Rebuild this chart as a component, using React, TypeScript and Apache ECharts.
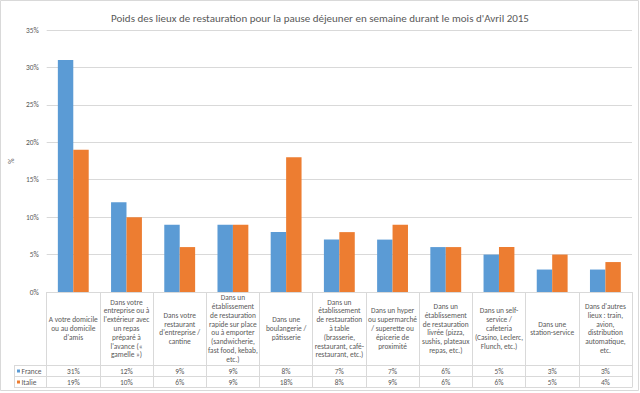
import React, { useEffect, useRef } from "react";
import * as echarts from "echarts";

const title = "Poids des lieux de restauration pour la pause déjeuner en semaine durant le mois d'Avril 2015";
const categories = [
  "A votre domicile\nou au domicile\nd'amis",
  "Dans votre\nentreprise ou à\nl'extérieur avec\nun repas\npréparé à\nl'avance («\ngamelle »)",
  "Dans votre\nrestaurant\nd'entreprise /\ncantine",
  "Dans un\nétablissement\nde restauration\nrapide sur place\nou à emporter\n(sandwicherie,\nfast food, kebab,\netc.)",
  "Dans une\nboulangerie /\npâtisserie",
  "Dans un\nétablissement\nde restauration\nà table\n(brasserie,\nrestaurant, café-\nrestaurant, etc.)",
  "Dans un hyper\nou supermarché\n/ superette ou\népicerie de\nproximité",
  "Dans un\nétablissement\nde restauration\nlivrée (pizza,\nsushis, plateaux\nrepas, etc.)",
  "Dans un self-\nservice /\ncafeteria\n(Casino, Leclerc,\nFlunch, etc.)",
  "Dans une\nstation-service",
  "Dans d'autres\nlieux : train,\navion,\ndistribution\nautomatique,\netc.",
];
const seriesNames = ["France", "Italie"];
const france = [31, 12, 9, 9, 8, 7, 7, 6, 5, 3, 3];
const italie = [19, 10, 6, 9, 18, 8, 9, 6, 6, 5, 4];
const yTicks = { min: 0, max: 35, interval: 5 };
const yName = "%";

const COLORS = ["#5B9BD5", "#ED7D31"];
const TEXT = "#595959";
const LINE = "#D9D9D9";
const FONT = "Carlito, Calibri, Lato, sans-serif";
const FS = 7.4;

const W = 640;
const H = 393;
const GRID_LEFT = 45;
const GRID_RIGHT = 632;
const GRID_TOP = 30;
const AXIS_Y = 292;
const HEADER_H = 73;
const ROW_H = 11;
const TABLE_LEFT = 14;

export default function App() {
  const ref = useRef<HTMLDivElement>(null);
  useEffect(() => {
    if (!ref.current) return;
    const chart = echarts.init(ref.current, undefined, { renderer: "svg" });
    const r1 = AXIS_Y + HEADER_H;
    const r2 = r1 + ROW_H;
    const r3 = r2 + ROW_H;
    const hLine = (y: number) => ({
      type: "line",
      shape: { x1: TABLE_LEFT, y1: y + 0.5, x2: GRID_RIGHT + 0.5, y2: y + 0.5 },
      style: { stroke: LINE, lineWidth: 1 },
      silent: true,
    });
    const legendKeys = seriesNames.flatMap((name, i) => {
      const cy = r1 + ROW_H * i + ROW_H / 2 + 0.5;
      return [
        {
          type: "rect",
          shape: { x: TABLE_LEFT + 3, y: cy - 1.5, width: 3, height: 3 },
          style: { fill: COLORS[i] },
          silent: true,
        },
        {
          type: "text",
          x: TABLE_LEFT + 7.5,
          y: cy,
          style: { text: name, fill: TEXT, font: `${FS}px ${FONT}`, textVerticalAlign: "middle", verticalAlign: "middle" },
          silent: true,
        },
      ];
    });
    const valueAxis = (vals: number[], row: number) => ({
      type: "category",
      gridIndex: 0,
      position: "bottom",
      data: vals.map((v) => v + "%"),
      axisLine: { show: false },
      axisTick: { show: false },
      splitLine: { show: false },
      axisLabel: {
        interval: 0,
        margin: HEADER_H + ROW_H * row + ROW_H / 2 + 0.5,
        verticalAlign: "middle",
        color: TEXT,
        fontSize: FS,
        fontFamily: FONT,
      },
    });
    chart.setOption({
      animation: false,
      backgroundColor: "#ffffff",
      title: {
        text: title,
        left: "center",
        top: 8,
        textStyle: { color: TEXT, fontSize: 11, fontWeight: "normal", fontFamily: FONT },
      },
      grid: {
        left: GRID_LEFT,
        right: W - GRID_RIGHT,
        top: GRID_TOP,
        bottom: H - AXIS_Y,
        containLabel: false,
      },
      xAxis: [
        {
          type: "category",
          data: categories,
          axisLine: { lineStyle: { color: LINE } },
          axisTick: { show: true, length: HEADER_H + 2 * ROW_H, lineStyle: { color: LINE } },
          axisLabel: {
            interval: 0,
            margin: HEADER_H / 2,
            verticalAlign: "middle",
            color: TEXT,
            fontSize: FS,
            lineHeight: 8.8,
            fontFamily: FONT,
            align: "center",
          },
        },
        valueAxis(france, 0),
        valueAxis(italie, 1),
      ],
      yAxis: {
        type: "value",
        min: yTicks.min,
        max: yTicks.max,
        interval: yTicks.interval,
        name: yName,
        nameLocation: "middle",
        nameGap: 31,
        nameRotate: 90,
        nameTextStyle: { color: TEXT, fontSize: FS, fontFamily: FONT },
        axisLine: { show: false },
        axisTick: { show: false },
        axisLabel: { formatter: "{value}%", color: TEXT, fontSize: FS, fontFamily: FONT, margin: 8 },
        splitLine: { lineStyle: { color: LINE } },
      },
      series: [
        {
          name: seriesNames[0],
          type: "bar",
          data: france,
          barGap: "0%",
          barCategoryGap: "42%",
          itemStyle: { color: COLORS[0] },
        },
        {
          name: seriesNames[1],
          type: "bar",
          data: italie,
          barGap: "0%",
          barCategoryGap: "42%",
          itemStyle: { color: COLORS[1] },
        },
      ],
      graphic: [
        {
          type: "rect",
          shape: { x: 0.5, y: 0.5, width: W - 2, height: 390 },
          style: { fill: "none", stroke: LINE, lineWidth: 1 },
          silent: true,
          z: -1,
        },
        hLine(r1),
        hLine(r2),
        hLine(r3),
        {
          type: "line",
          shape: { x1: TABLE_LEFT + 0.5, y1: r1, x2: TABLE_LEFT + 0.5, y2: r3 + 0.5 },
          style: { stroke: LINE, lineWidth: 1 },
          silent: true,
        },
        ...legendKeys,
      ],
    });
    return () => chart.dispose();
  }, []);
  return <div ref={ref} style={{ position: "fixed", left: 0, top: 0, width: W, height: H }} />;
}
